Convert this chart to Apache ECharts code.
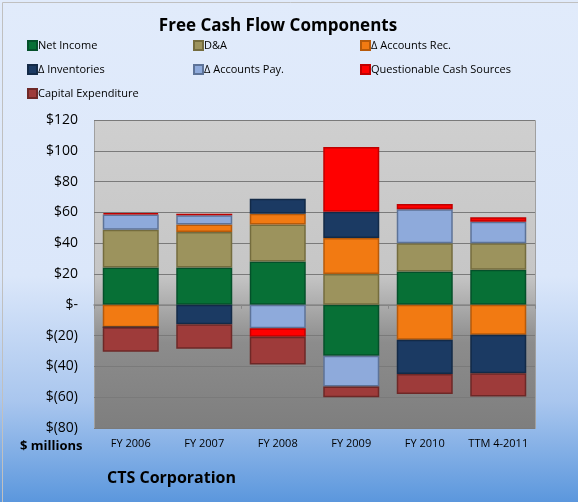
<!DOCTYPE html>
<html>
<head>
<meta charset="utf-8">
<script src="https://cdn.jsdelivr.net/npm/echarts@6/dist/echarts.min.js"></script>
<style>
  body { margin: 0; }
  #chart { width: 578px; height: 502px; }
</style>
</head>
<body>
<div id="chart"></div>
<script>
// data, $ millions
var categories = ['FY 2006', 'FY 2007', 'FY 2008', 'FY 2009', 'FY 2010', 'TTM 4-2011'];
var netIncome    = [24.2, 24.2, 28.1, -33.1, 21.6, 22.7];
var dna          = [24.5, 23, 24, 20, 18.4, 17.3];
var accountsRec  = [-14.5, 5, 7, 23.4, -22.7, -19.5];
var inventories  = [0, -12.6, 9.7, 17, -22.3, -25];
var accountsPay  = [10, 6, -15.2, -20, 22, 14];
var questionable = [0.8, 1, -5.5, 42, 3.5, 2.8];
var capex        = [-16, -16, -18, -7, -13, -15];
var yTicks = [-80, -60, -40, -20, 0, 20, 40, 60, 80, 100, 120];

var chart = echarts.init(document.getElementById('chart'));

function bar(name, data, color, border) {
  return {
    name: name,
    type: 'bar',
    stack: 'fcf',
    data: data,
    barWidth: 56,
    itemStyle: { color: color, borderColor: border, borderWidth: 1.5 }
  };
}

var font = 'Open Sans';
var legendText = { fontSize: 11, color: '#000', padding: [0, 0, 0, -4] };

chart.setOption({
  backgroundColor: {
    type: 'linear', x: 0, y: 0, x2: 0, y2: 1,
    colorStops: [
      { offset: 0, color: '#e1ebfb' },
      { offset: 0.55, color: '#dbe7fa' },
      { offset: 0.8, color: '#a9c6ee' },
      { offset: 1, color: '#5b97dd' }
    ]
  },
  textStyle: { fontFamily: font },
  title: {
    text: 'Free Cash Flow Components',
    left: 273, top: 13, textAlign: 'center',
    textStyle: { fontSize: 17, fontWeight: 'bold', color: '#000', fontFamily: font }
  },
  legend: [
    { left: 22, top: 35, orient: 'vertical', itemGap: 13, itemWidth: 9, itemHeight: 9, icon: 'rect',
      data: ['Net Income', 'Δ Inventories', 'Capital Expenditure'], textStyle: legendText },
    { left: 188, top: 35, orient: 'vertical', itemGap: 13, itemWidth: 9, itemHeight: 9, icon: 'rect',
      data: ['D&A', 'Δ Accounts Pay.'], textStyle: legendText },
    { left: 355, top: 35, orient: 'vertical', itemGap: 13, itemWidth: 9, itemHeight: 9, icon: 'rect',
      data: ['Δ Accounts Rec.', 'Questionable Cash Sources'], textStyle: legendText }
  ],
  graphic: [
    { type: 'rect', left: 94, top: 120, shape: { width: 441, height: 308 }, z: -1,
      style: { fill: {
        type: 'linear', x: 0, y: 0, x2: 0, y2: 1,
        colorStops: [
          { offset: 0, color: '#cfcfcf' },
          { offset: 0.5, color: '#c6c6c6' },
          { offset: 0.72, color: '#8c8c8c' },
          { offset: 1, color: '#7e7e7e' }
        ] }, stroke: '#a0a0a0' } },
    { type: 'text', left: 20, top: 440,
      style: { text: '$ millions', font: 'bold 13px "Open Sans"', fill: '#000' } },
    { type: 'text', left: 107, top: 470,
      style: { text: 'CTS Corporation', font: 'bold 16px "Open Sans"', fill: '#000' } },
    { type: 'rect', left: 0, top: 0, shape: { width: 577, height: 501 }, z: 100,
      style: { fill: 'none', stroke: '#c0c0c0', lineWidth: 1 } }
  ],
  grid: { left: 94, right: 43, top: 120, bottom: 74 },
  xAxis: [
    { type: 'category', data: categories, position: 'bottom',
      axisLine: { show: false, onZero: false }, axisTick: { show: false },
      axisLabel: { fontSize: 11, color: '#000', margin: 10, interval: 0 } },
    { type: 'category', data: categories, position: 'bottom',
      axisLine: { onZero: true, lineStyle: { color: '#888', width: 1.5 } },
      axisTick: { show: true, length: 4, lineStyle: { color: '#888' } },
      axisLabel: { show: false } }
  ],
  yAxis: {
    type: 'value', min: yTicks[0], max: yTicks[yTicks.length - 1], interval: 20,
    axisLine: { show: false }, axisTick: { show: false },
    splitLine: { lineStyle: { color: '#7a7a7a', width: 1 } },
    axisLabel: {
      fontSize: 14, color: '#000', margin: 16,
      formatter: function (v) {
        if (v === 0) return '$-';
        return v < 0 ? '$(' + (-v) + ')' : '$' + v;
      }
    }
  },
  series: [
    bar('Net Income', netIncome, '#077036', '#04502a'),
    bar('D&A', dna, '#9c935d', '#746c3e'),
    bar('Δ Accounts Rec.', accountsRec, '#f27a12', '#b75a0a'),
    bar('Δ Inventories', inventories, '#1b3a63', '#132a47'),
    bar('Δ Accounts Pay.', accountsPay, '#8eaadb', '#5d7398'),
    bar('Questionable Cash Sources', questionable, '#ff0000', '#c00000'),
    bar('Capital Expenditure', capex, '#9e3b3a', '#6e2827')
  ]
});
</script>
</body>
</html>
